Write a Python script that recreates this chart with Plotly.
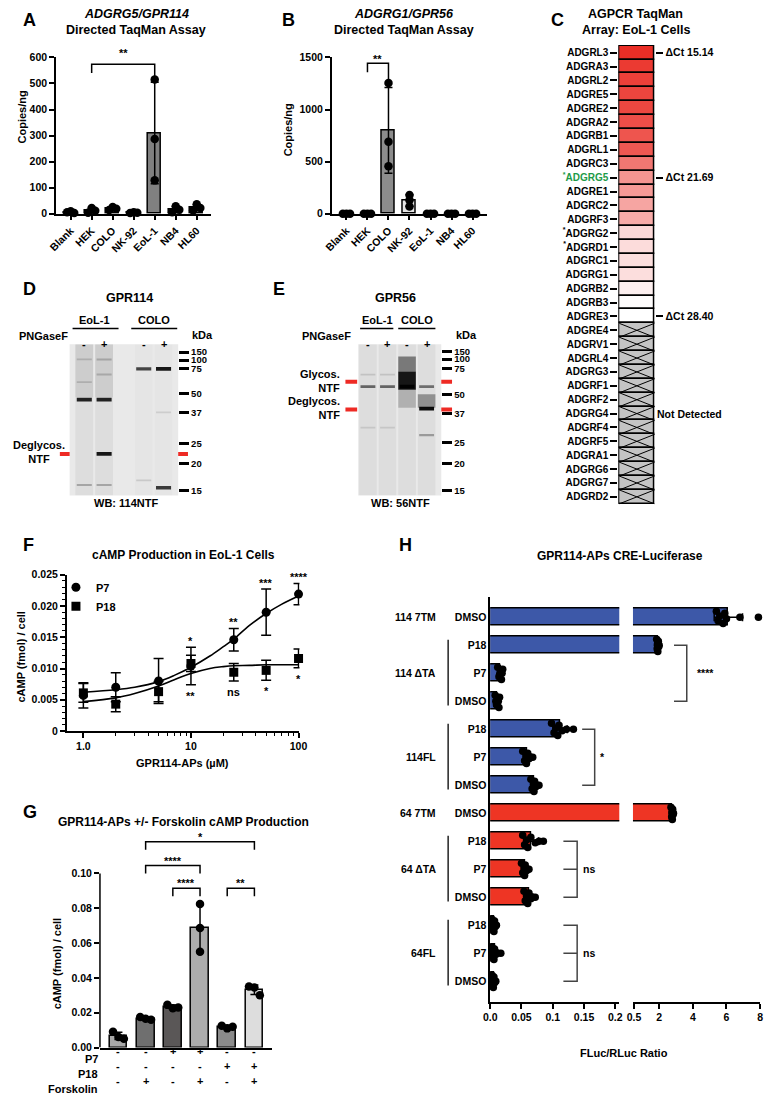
import numpy as np
import plotly.graph_objects as go

W, H = 773, 1101
FONT = "Liberation Sans"

# ---------------- data ----------------
cell_lines = ["Blank", "HEK", "COLO", "NK-92", "EoL-1", "NB4", "HL60"]
gpr114_copies = [[6, 9, 3], [4, 22, 11], [14, 26, 19], [3, 6, 4], [515, 287, 128], [6, 29, 15], [13, 36, 22]]
gpr56_copies = [[0, 0, 0], [0, 0, 0], [1255, 690, 455], [180, 130, 70], [0, 0, 0], [0, 0, 0], [0, 0, 0]]

agpcr_genes = ["ADGRL3", "ADGRA3", "ADGRL2", "ADGRE5", "ADGRE2", "ADGRA2", "ADGRB1", "ADGRL1",
               "ADGRC3", "ADGRG5", "ADGRE1", "ADGRC2", "ADGRF3", "ADGRG2", "ADGRD1", "ADGRC1",
               "ADGRG1", "ADGRB2", "ADGRB3", "ADGRE3", "ADGRE4", "ADGRV1", "ADGRL4", "ADGRG3",
               "ADGRF1", "ADGRF2", "ADGRG4", "ADGRF4", "ADGRF5", "ADGRA1", "ADGRG6", "ADGRG7", "ADGRD2"]
agpcr_dct = [15.14, 15.9, 16.3, 16.6, 16.7, 17.2, 17.6, 17.8, 19.8, 21.69, 22.0, 22.7, 23.1,
             26.0, 26.2, 26.3, 26.3, 27.4, 28.3, 28.40] + [None] * 13
agpcr_marked = ["ADGRG5", "ADGRG2", "ADGRD1"]
agpcr_labelled = ["ADGRL3", "ADGRG5", "ADGRE3"]

ladder_kda = [150, 100, 75, 50, 37, 25, 20, 15]
# migration as fraction of blot height from top
ladder_mig_d = [0.052, 0.105, 0.163, 0.327, 0.451, 0.654, 0.791, 0.967]
ladder_mig_e = [0.046, 0.098, 0.163, 0.333, 0.458, 0.647, 0.791, 0.967]
pngasef = ["-", "+", "-", "+"]
d_lanes = [1, 2, 4, 5]
e_lanes = [1, 2, 3, 4]
d_band_lane = [1, 1, 1, 1, 2, 2, 2, 2, 2, 4, 4, 5, 5, 5]
d_band_mig = [0.10, 0.25, 0.366, 0.93, 0.10, 0.20, 0.366, 0.725, 0.93, 0.163, 0.90, 0.163, 0.45, 0.948]
d_band_int = [0.15, 0.15, 0.85, 0.25, 0.2, 0.18, 0.85, 0.9, 0.25, 0.7, 0.12, 0.9, 0.1, 0.75]
d_smear_lane = [1, 2, 1, 2, 4, 5]
d_smear_top = [0.0, 0.0, 0.0, 0.0, 0.0, 0.0]
d_smear_bot = [1.0, 1.0, 0.35, 0.35, 1.0, 1.0]
d_smear_int = [0.05, 0.05, 0.07, 0.07, 0.015, 0.015]
d_ntf_mig = [0.725]
e_band_lane = [1, 1, 1, 2, 2, 2, 3, 4, 4, 4]
e_band_mig = [0.20, 0.28, 0.55, 0.20, 0.28, 0.55, 0.28, 0.28, 0.425, 0.60]
e_band_int = [0.12, 0.55, 0.1, 0.12, 0.55, 0.1, 0.95, 0.5, 0.95, 0.3]
e_smear_lane = [1, 2, 3, 4, 3, 3, 3, 4]
e_smear_top = [0.0, 0.0, 0.0, 0.0, 0.08, 0.18, 0.30, 0.33]
e_smear_bot = [1.0, 1.0, 1.0, 1.0, 0.18, 0.30, 0.42, 0.42]
e_smear_int = [0.05, 0.05, 0.05, 0.05, 0.45, 0.9, 0.2, 0.35]
e_glyco_mig = [0.248, 0.431]

f_conc = [1, 2, 5, 10, 25, 50, 100]
f_p7 = [0.0057, 0.0070, 0.0080, 0.0104, 0.0146, 0.0190, 0.0219]
f_p7_sd = [0.0020, 0.0023, 0.0036, 0.0030, 0.0018, 0.0037, 0.0017]
f_p18 = [0.0061, 0.0043, 0.0063, 0.0108, 0.0094, 0.0097, 0.0116]
f_p18_sd = [0.0015, 0.0012, 0.0016, 0.0013, 0.0014, 0.0016, 0.0015]
f_p7_sig = ["", "", "", "*", "**", "***", "****"]
f_p18_sig = ["", "", "", "**", "ns", "*", "*"]
f_fit_x = [1, 2, 3, 5, 7, 10, 15, 20, 25, 35, 50, 70, 100]
f_fit_p7 = [0.0062, 0.0066, 0.0070, 0.0079, 0.0089, 0.0102, 0.0120, 0.0135, 0.0147, 0.0169, 0.0188, 0.0203, 0.0216]
f_fit_p18 = [0.0047, 0.0053, 0.0060, 0.0072, 0.0082, 0.0092, 0.0100, 0.0103, 0.01045, 0.0105, 0.0106, 0.0106, 0.0106]

g_p7 = ["-", "-", "+", "+", "-", "-"]
g_p18 = ["-", "-", "-", "-", "+", "+"]
g_forskolin = ["-", "+", "-", "+", "-", "+"]
g_camp = [[0.0090, 0.0060, 0.0050], [0.0175, 0.0165, 0.0160], [0.0245, 0.0225, 0.0230],
          [0.0824, 0.0686, 0.0550], [0.0125, 0.0110, 0.0120], [0.0350, 0.0345, 0.0300]]
g_colors = ["#a9a9a9", "#6f6f6f", "#5a5757", "#adadad", "#8b8b8b", "#dddddd"]
g_sig = [(1, 5, "*", 0.1182), (1, 3, "****", 0.1045), (2, 3, "****", 0.0915), (4, 5, "**", 0.0915)]

h_groups = ["114 7TM", "114 ΔTA", "114FL", "64 7TM", "64 ΔTA", "64FL"]
h_group_rows = [[0], [1, 2, 3], [4, 5, 6], [7], [8, 9, 10], [11, 12, 13]]
h_treat = ["DMSO", "P18", "P7", "DMSO", "P18", "P7", "DMSO",
           "DMSO", "P18", "P7", "DMSO", "P18", "P7", "DMSO"]
h_receptor = ["GPR114"] * 7 + ["GPR64"] * 7
h_ratio = [
    [5.4, 5.5, 5.6, 5.8, 5.9, 6.0, 6.8, 7.9],
    [1.85, 1.88, 1.90, 1.92, 1.95, 1.97, 2.00, 1.90],
    [0.012, 0.014, 0.016, 0.018, 0.020, 0.015, 0.017, 0.019],
    [0.008, 0.010, 0.012, 0.014, 0.015, 0.011, 0.013, 0.009],
    [0.098, 0.102, 0.105, 0.108, 0.110, 0.115, 0.122, 0.133],
    [0.052, 0.055, 0.057, 0.058, 0.060, 0.062, 0.065, 0.068],
    [0.065, 0.067, 0.069, 0.070, 0.071, 0.073, 0.075, 0.078],
    [2.70, 2.74, 2.76, 2.78, 2.80, 2.82, 2.85, 2.77],
    [0.052, 0.055, 0.058, 0.060, 0.065, 0.072, 0.078, 0.085],
    [0.050, 0.052, 0.054, 0.055, 0.056, 0.058, 0.060, 0.062],
    [0.054, 0.056, 0.058, 0.060, 0.062, 0.065, 0.068, 0.072],
    [0.003, 0.004, 0.005, 0.006, 0.007, 0.008, 0.009, 0.010],
    [0.003, 0.004, 0.005, 0.006, 0.007, 0.008, 0.012, 0.017],
    [0.003, 0.004, 0.005, 0.005, 0.006, 0.007, 0.008, 0.009],
]
h_sig = [((1, 3), "x10", "****", False), ((4, 6), "x9", "*", False),
         ((8, 10), "x9", "ns", True), ((11, 13), "x9", "ns", True)]

# ---------------- helpers ----------------
def fx(p):
    return p / W


def fy(p):
    return 1 - p / H


def bold(size, color="black"):
    return dict(family=FONT, size=size, color=color, weight="bold")


fig = go.Figure()
ann, shapes = [], []


def text(x, y, s, size=10.5, xanchor="center", yanchor="middle", color="black", angle=0,
         xref="paper", yref="paper", align="center", yshift=0):
    ann.append(dict(x=fx(x) if xref == "paper" else x, y=fy(y) if yref == "paper" else y,
                    xref=xref, yref=yref, text=s, showarrow=False, xanchor=xanchor, yanchor=yanchor,
                    textangle=angle, font=bold(size, color), align=align, yshift=yshift))


def hline_px(x0, x1, y, color="black", width=1.5):
    shapes.append(dict(type="line", xref="paper", yref="paper", x0=fx(x0), x1=fx(x1), y0=fy(y), y1=fy(y),
                       line=dict(color=color, width=width)))


def axstyle(**kw):
    d = dict(showline=True, linecolor="black", linewidth=1.5, ticks="outside", ticklen=5, tickwidth=1.5,
             tickcolor="black", tickfont=bold(10.5), showgrid=False, zeroline=False, fixedrange=True)
    d.update(kw)
    return d


def xdom(a, b):
    return [fx(a), fx(b)]


def ydom(top, bottom):
    return [fy(bottom), fy(top)]


# ---------------- A & B ----------------
def dot_panel(reps, xa, ya, span, colors):
    means = [float(np.mean(r)) for r in reps]
    sds = [float(np.std(r, ddof=1)) for r in reps]
    idx = list(range(len(reps)))
    fig.add_trace(go.Bar(x=idx, y=means, width=0.6, marker=dict(color=colors, line=dict(color="black", width=1.5)),
                         error_y=dict(type="data", array=sds, color="black", thickness=1.5, width=4),
                         xaxis=xa, yaxis=ya, showlegend=False, hoverinfo="skip"))
    xs, ys = [], []
    for i, r in enumerate(reps):
        spread = (max(r) - min(r)) < 0.06 * span
        for k, v in enumerate(r):
            xs.append(i + ((k - 1) * 0.17 if spread else 0))
            ys.append(v)
    fig.add_trace(go.Scatter(x=xs, y=ys, mode="markers", marker=dict(color="black", size=8.5), cliponaxis=False,
                             xaxis=xa, yaxis=ya, showlegend=False, hoverinfo="skip"))


dot_panel(gpr114_copies, "x", "y", 600, ["#808080"] * 7)
dot_panel(gpr56_copies, "x2", "y2", 1500, ["#808080", "#808080", "#8c8c8c", "#e6e6e6", "#808080", "#808080", "#808080"])


def bracket(xref, yref, x0, x1, ytop, yl, yr, color="black"):
    shapes.append(dict(type="path", xref=xref, yref=yref,
                       path=f"M {x0},{yl} L {x0},{ytop} L {x1},{ytop} L {x1},{yr}",
                       line=dict(color=color, width=1.5)))


bracket("x", "y", 1, 4, 574, 540, 513)
text(2.5, 600, "**", xref="x", yref="y", yanchor="bottom", size=11, yshift=-4)
bracket("x2", "y2", 1, 2, 1443, 1357, 1240)
text(1.5, 1450, "**", xref="x2", yref="y2", yanchor="bottom", size=11, yshift=-4)

# ---------------- C ----------------
valid = [v for v in agpcr_dct if v is not None]
lo, hi = min(valid), max(valid)
red = (234, 46, 38)


def heat_color(v):
    if v is None:
        return "#c4c4c4"
    f = (v - lo) / (hi - lo)
    c = [round(ch + (255 - ch) * f) for ch in red]
    return f"rgb({c[0]},{c[1]},{c[2]})"


n_genes = len(agpcr_genes)
fig.add_trace(go.Bar(x=[1] * n_genes, y=list(range(n_genes)), base=0, orientation="h", width=1,
                     marker=dict(color=[heat_color(v) for v in agpcr_dct], line=dict(color="black", width=1.5)),
                     xaxis="x3", yaxis="y3", showlegend=False, hoverinfo="skip"))
xs, ys = [], []
for i, v in enumerate(agpcr_dct):
    if v is None:
        xs += [0, 1, None, 0, 1, None]
        ys += [i - 0.5, i + 0.5, None, i + 0.5, i - 0.5, None]
fig.add_trace(go.Scatter(x=xs, y=ys, mode="lines", line=dict(color="black", width=1), xaxis="x3", yaxis="y3",
                         showlegend=False, hoverinfo="skip"))
fig.add_trace(go.Scatter(x=[None], y=[None], xaxis="x3", yaxis="y4", showlegend=False))


def gene_label(g):
    if g == "ADGRG5":
        return "<span style='color:#1e9b48'><sup>*</sup>ADGRG5</span>"
    if g in agpcr_marked:
        return "<sup>*</sup>" + g
    return g


c_right_vals = [agpcr_genes.index(g) for g in agpcr_labelled]
c_right_text = ["ΔCt %.2f" % agpcr_dct[i] for i in c_right_vals]
nd_rows = [i for i, v in enumerate(agpcr_dct) if v is None]
text(1.03, nd_rows[len(nd_rows) // 2], "Not Detected", xref="x3", yref="y3", xanchor="left", size=10.5)


# ---------------- D & E blots ----------------
def blot(xa, ya, band_lane, band_mig, band_int, smear_lane, smear_top, smear_bot, smear_int):
    shapes.append(dict(type="rect", xref=f"{xa} domain", yref=f"{ya} domain", x0=0, x1=1, y0=0, y1=1,
                       fillcolor="#e9e9e9", line=dict(width=0), layer="below"))
    for l, t, b, it in zip(smear_lane, smear_top, smear_bot, smear_int):
        fig.add_trace(go.Scatter(x=[l - 0.45, l + 0.45, l + 0.45, l - 0.45, l - 0.45], y=[t, t, b, b, t],
                                 fill="toself", fillcolor=f"rgba(0,0,0,{it})", line=dict(width=0), mode="lines",
                                 xaxis=xa, yaxis=ya, showlegend=False, hoverinfo="skip"))
    for l, m, it in zip(band_lane, band_mig, band_int):
        fig.add_trace(go.Scatter(x=[l - 0.38, l + 0.38], y=[m, m], mode="lines",
                                 line=dict(color=f"rgba(0,0,0,{it})", width=1.5 + 2.5 * it),
                                 xaxis=xa, yaxis=ya, showlegend=False, hoverinfo="skip"))


blot("x5", "y5", d_band_lane, d_band_mig, d_band_int, d_smear_lane, d_smear_top, d_smear_bot, d_smear_int)
blot("x6", "y6", e_band_lane, e_band_mig, e_band_int, e_smear_lane, e_smear_top, e_smear_bot, e_smear_int)

for m in d_ntf_mig:
    for a, b in [(52, 62), (173, 183)]:
        shapes.append(dict(type="line", xref="paper", yref="y5", x0=fx(a), x1=fx(b), y0=m, y1=m,
                           line=dict(color="#ee2a24", width=4)))
for m in e_glyco_mig:
    for a, b in [(344, 356), (442, 453)]:
        shapes.append(dict(type="line", xref="paper", yref="y6", x0=fx(a), x1=fx(b), y0=m, y1=m,
                           line=dict(color="#ee2a24", width=4)))

# D labels
text(123, 295, "GPR114", size=12.5)
text(87, 317, "EoL-1", size=11)
text(148, 317, "COLO", size=11)
hline_px(65, 112, 326)
hline_px(125, 172, 326)
text(62, 334, "PNGaseF", xanchor="right", size=11)
for ln, s in zip(d_lanes, pngasef):
    ann.append(dict(x=ln, y=fy(334), xref="x5", yref="paper", text=s, showarrow=False, font=bold(11)))
text(185, 333, "kDa", xanchor="left", size=11)
text(31, 451, "Deglycos.<br>NTF", size=11)
text(120, 502, "WB: 114NTF", size=11)
# E labels
text(395, 295, "GPR56", size=12.5)
text(377, 317, "EoL-1", size=11)
text(417, 317, "COLO", size=11)
hline_px(359, 393, 326)
hline_px(398, 436, 326)
text(352, 334, "PNGaseF", xanchor="right", size=11)
for ln, s in zip(e_lanes, pngasef):
    ann.append(dict(x=ln, y=fy(334), xref="x6", yref="paper", text=s, showarrow=False, font=bold(11)))
text(455, 333, "kDa", xanchor="left", size=11)
text(340, 379, "Glycos.<br>NTF", xanchor="right", align="right", size=11)
text(340, 406, "Deglycos.<br>NTF", xanchor="right", align="right", size=11)
text(400, 502, "WB: 56NTF", size=11)

# ---------------- F ----------------
errF = dict(type="data", color="black", thickness=1.5, width=5)
fig.add_trace(go.Scatter(x=f_fit_x, y=f_fit_p7, mode="lines", line=dict(color="black", width=1.6, shape="spline"),
                         xaxis="x7", yaxis="y7", showlegend=False, hoverinfo="skip"))
fig.add_trace(go.Scatter(x=f_fit_x, y=f_fit_p18, mode="lines", line=dict(color="black", width=1.6, shape="spline"),
                         xaxis="x7", yaxis="y7", showlegend=False, hoverinfo="skip"))
fig.add_trace(go.Scatter(x=f_conc, y=f_p7, mode="markers", name="P7",
                         marker=dict(symbol="circle", size=9, color="black"),
                         error_y=dict(array=f_p7_sd, **errF), xaxis="x7", yaxis="y7", cliponaxis=False))
fig.add_trace(go.Scatter(x=f_conc, y=f_p18, mode="markers", name="P18",
                         marker=dict(symbol="square", size=9, color="black"),
                         error_y=dict(array=f_p18_sd, **errF), xaxis="x7", yaxis="y7", cliponaxis=False))
for c, m, s, lab in zip(f_conc, f_p7, f_p7_sd, f_p7_sig):
    if lab:
        text(np.log10(c), m + s, lab, xref="x7", yref="y7", yanchor="bottom", size=11, yshift=-2)
for c, m7, s7, m18, s18, lab in zip(f_conc, f_p7, f_p7_sd, f_p18, f_p18_sd, f_p18_sig):
    if lab:
        text(np.log10(c), min(m7 - s7, m18 - s18), lab, xref="x7", yref="y7", yanchor="top", size=11, yshift=-3)

# ---------------- G ----------------
g_means = [float(np.mean(r)) for r in g_camp]
g_sds = [float(np.std(r, ddof=1)) for r in g_camp]
g_idx = list(range(len(g_camp)))
fig.add_trace(go.Bar(x=g_idx, y=g_means, width=0.65, marker=dict(color=g_colors, line=dict(color="black", width=1.5)),
                     error_y=dict(type="data", array=g_sds, color="black", thickness=1.5, width=4),
                     xaxis="x8", yaxis="y8", showlegend=False, hoverinfo="skip"))
xs, ys = [], []
for i, r in enumerate(g_camp):
    spread = (max(r) - min(r)) < 0.1 * 0.10
    for k, v in enumerate(r):
        xs.append(i + ((k - 1) * 0.2 if spread else 0))
        ys.append(v)
fig.add_trace(go.Scatter(x=xs, y=ys, mode="markers", marker=dict(color="black", size=8.5), cliponaxis=False,
                         xaxis="x8", yaxis="y8", showlegend=False, hoverinfo="skip"))
shapes.append(dict(type="line", xref="paper", yref="y8", x0=fx(93), x1=fx(93), y0=0, y1=0.10,
                   line=dict(color="black", width=1.5)))
for a, b, lab, yt in g_sig:
    bracket("x8", "y8", a, b, yt, yt - 0.0046, yt - 0.0046)
    text((a + b) / 2, yt, lab, xref="x8", yref="y8", yanchor="bottom", size=11, yshift=-3)
for row_y, name, vals in [(1065, "P7", g_p7), (1080, "P18", g_p18), (1095, "Forskolin", g_forskolin)]:
    text(93, row_y, name, xanchor="right", size=11)
    for i, s in enumerate(vals):
        ann.append(dict(x=i, y=fy(row_y), xref="x8", yref="paper", text=s, showarrow=False, font=bold(11)))

# ---------------- H ----------------
h_means = [float(np.mean(r)) for r in h_ratio]
h_sds = [float(np.std(r, ddof=1)) for r in h_ratio]
h_colors = ["#3d58a8" if r == "GPR114" else "#ee3524" for r in h_receptor]
rows = list(range(len(h_ratio)))
LEFT_MAX = 0.2063
fig.add_trace(go.Bar(x=h_means, y=rows, orientation="h", width=0.6,
                     marker=dict(color=h_colors, line=dict(color="black", width=1.5)),
                     error_x=dict(type="data", array=h_sds, color="black", thickness=1.5, width=4),
                     xaxis="x9", yaxis="y9", showlegend=False, hoverinfo="skip"))
big = [i for i in rows if h_means[i] > LEFT_MAX]
fig.add_trace(go.Bar(x=[h_means[i] for i in big], y=big, orientation="h", width=0.6,
                     marker=dict(color=[h_colors[i] for i in big], line=dict(color="black", width=1.5)),
                     error_x=dict(type="data", array=[h_sds[i] for i in big], color="black", thickness=1.5, width=4),
                     xaxis="x10", yaxis="y9", showlegend=False, hoverinfo="skip"))
jit = [-0.22, 0.12, -0.05, 0.22, -0.15, 0.05, 0.0, 0.0]
lx, ly, rx, ry = [], [], [], []
for i, r in enumerate(h_ratio):
    for k, v in enumerate(r):
        if v <= LEFT_MAX:
            lx.append(v); ly.append(i + jit[k % len(jit)])
        else:
            rx.append(v); ry.append(i + jit[k % len(jit)])
fig.add_trace(go.Scatter(x=lx, y=ly, mode="markers", marker=dict(color="black", size=7.5), cliponaxis=False,
                         xaxis="x9", yaxis="y9", showlegend=False, hoverinfo="skip"))
fig.add_trace(go.Scatter(x=rx, y=ry, mode="markers", marker=dict(color="black", size=7.5), cliponaxis=False,
                         xaxis="x10", yaxis="y9", showlegend=False, hoverinfo="skip"))
for g, rr in zip(h_groups, h_group_rows):
    ann.append(dict(x=fx(439), y=float(np.mean(rr)), xref="paper", yref="y9", text=g, showarrow=False,
                    xanchor="right", font=bold(10.5)))
    if len(rr) > 1:
        shapes.append(dict(type="line", xref="paper", yref="y9", x0=fx(449), x1=fx(449),
                           y0=rr[0] - 0.2, y1=rr[-1] + 0.15, line=dict(color="black", width=1.3)))
for (r0, r1), xa, lab, mid in h_sig:
    if xa == "x10":
        xarm, xv = 2.88, 3.64
        tx = 4.1
    else:
        xarm, xv = (0.147, 0.167) if not mid else (0.117, 0.139)
        tx = xv + 0.006
    path = f"M {xarm},{r0} L {xv},{r0} L {xv},{r1} L {xarm},{r1}"
    if mid:
        path += f" M {xarm},{(r0 + r1) / 2} L {xv},{(r0 + r1) / 2}"
    shapes.append(dict(type="path", xref=xa, yref="y9", path=path, line=dict(color="#444444", width=1.5)))
    ann.append(dict(x=tx, y=(r0 + r1) / 2, xref=xa, yref="y9", text=lab, showarrow=False, xanchor="left",
                    font=bold(10.5)))

# ---------------- titles / letters ----------------
for s, x, y in [("A", 12, 14), ("B", 277, 14), ("C", 552, 14), ("D", 12, 286), ("E", 268, 286),
                ("F", 12, 545), ("G", 12, 815), ("H", 397, 545)]:
    text(x, y, s, size=18, xanchor="left")
text(130, 8, "<i>ADGRG5/GPR114</i>", size=12.5)
text(130, 24, "Directed TaqMan Assay", size=12.5)
text(404, 8, "<i>ADGRG1/GPR56</i>", size=12.5)
text(404, 24, "Directed TaqMan Assay", size=12.5)
text(641, 8, "AGPCR TaqMan", size=12.5)
text(641, 24, "Array: EoL-1 Cells", size=12.5)
text(178, 555, "cAMP Production in EoL-1 Cells", size=12)
text(178, 825, "GPR114-APs +/- Forskolin cAMP Production", size=12)
text(625, 556, "GPR114-APs CRE-Luciferase", size=12)
text(13, 112, "Copies/ng", angle=-90, size=11)
text(285, 125, "Copies/ng", angle=-90, size=11)
text(12, 658, "cAMP (fmol) / cell", angle=-90, size=11)
text(50, 968, "cAMP (fmol) / cell", angle=-90, size=11)
text(177, 765, "GPR114-APs (µM)", size=11)
text(629, 1059, "FLuc/RLuc Ratio", size=11)

# ---------------- layout ----------------
cat_ticks = dict(tickvals=list(range(7)), ticktext=cell_lines, tickangle=-45)
layout = dict(
    width=W, height=H, margin=dict(l=0, r=0, t=0, b=0), paper_bgcolor="white", plot_bgcolor="white",
    font=dict(family=FONT, color="black"), bargap=0,
    showlegend=True,
    legend=dict(x=fx(48), y=fy(573), xanchor="left", yanchor="top", font=bold(11), bgcolor="rgba(0,0,0,0)",
                itemwidth=30, tracegroupgap=3),
    xaxis=axstyle(domain=xdom(48, 207), range=[-0.7, 6.7], anchor="y", **cat_ticks),
    yaxis=axstyle(domain=ydom(52, 210), range=[0, 600], anchor="x", tickvals=list(range(0, 601, 100))),
    xaxis2=axstyle(domain=xdom(330, 489), range=[-0.7, 6.7], anchor="y2", **cat_ticks),
    yaxis2=axstyle(domain=ydom(52, 210), range=[0, 1500], anchor="x2", tickvals=[0, 500, 1000, 1500]),
    xaxis3=dict(domain=xdom(623, 661), range=[-0.03, 1.03], anchor="y3", visible=False, fixedrange=True),
    yaxis3=axstyle(domain=ydom(39.5, 504), range=[n_genes - 0.45, -0.55], anchor="x3", showline=False,
                   tickvals=list(range(n_genes)), ticktext=[gene_label(g) for g in agpcr_genes], ticklen=7,
                   tickfont=bold(10)),
    yaxis4=axstyle(domain=ydom(39.5, 504), range=[n_genes - 0.45, -0.55], anchor="x3", overlaying="y3",
                   side="right", showline=False, tickvals=c_right_vals, ticktext=c_right_text, ticklen=7,
                   tickfont=bold(10.5)),
    xaxis5=dict(domain=xdom(62, 173), range=[0.26, 5.74], anchor="y5", visible=False, fixedrange=True),
    yaxis5=axstyle(domain=ydom(342, 495), range=[1, 0], anchor="x5", side="right", showline=False,
                   tickvals=ladder_mig_d, ticktext=[str(k) for k in ladder_kda], ticklen=10, tickwidth=3,
                   tickfont=bold(9.5)),
    xaxis6=dict(domain=xdom(357, 442), range=[0.5, 4.75], anchor="y6", visible=False, fixedrange=True),
    yaxis6=axstyle(domain=ydom(342, 495), range=[1, 0], anchor="x6", side="right", showline=False,
                   tickvals=ladder_mig_e, ticktext=[str(k) for k in ladder_kda], ticklen=10, tickwidth=3,
                   tickfont=bold(9.5)),
    xaxis7=axstyle(domain=xdom(59, 297), type="log", range=[np.log10(0.7), np.log10(102)], anchor="y7",
                   tickvals=[1, 10, 100], ticktext=["1.0", "10", "100"],
                   minor=dict(tickvals=[2, 3, 4, 5, 6, 7, 8, 9, 20, 30, 40, 50, 60, 70, 80, 90],
                              ticks="outside", ticklen=3, tickwidth=1, tickcolor="black")),
    yaxis7=axstyle(domain=ydom(575, 733), range=[0, 0.025], anchor="x7",
                   tickvals=[0, 0.005, 0.01, 0.015, 0.02, 0.025],
                   ticktext=["0", "0.005", "0.010", "0.015", "0.020", "0.025"],
                   minor=dict(dtick=0.001, ticks="outside", ticklen=3, tickwidth=1, tickcolor="black")),
    xaxis8=axstyle(domain=xdom(93, 269), range=[-0.68, 5.65], anchor="y8", ticks="", showticklabels=False),
    yaxis8=axstyle(domain=ydom(833, 1053), range=[0, 0.125], anchor="x8", showline=False,
                   tickvals=[0, 0.02, 0.04, 0.06, 0.08, 0.10],
                   ticktext=["0.00", "0.02", "0.04", "0.06", "0.08", "0.10"]),
    xaxis9=axstyle(domain=xdom(492, 624), range=[0, LEFT_MAX], anchor="y9",
                   tickvals=[0, 0.05, 0.1, 0.15, 0.2], ticktext=["0.0", "0.05", "0.1", "0.15", "0.2"]),
    xaxis10=axstyle(domain=xdom(638, 768), range=[0.442, 8.0], anchor="y9",
                    tickvals=[0.5, 2, 4, 6, 8], ticktext=["0.5", "2", "4", "6", "8"]),
    yaxis9=axstyle(domain=ydom(598, 1007), range=[13.74, -0.71], anchor="x9", ticks="",
                   tickvals=rows, ticktext=h_treat),
    annotations=ann, shapes=shapes,
)
fig.update_layout(**layout)
fig.write_html("out.html", config={"displayModeBar": False},
               post_script="document.body.style.margin='0px';")
